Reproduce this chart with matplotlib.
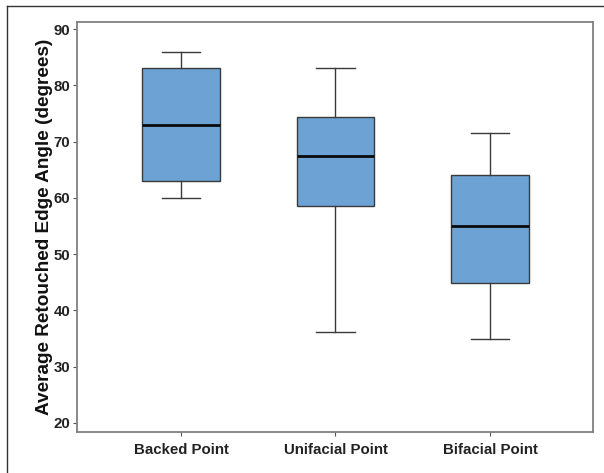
import matplotlib
matplotlib.use("Agg")
import matplotlib.pyplot as plt
from matplotlib.lines import Line2D

categories = ["Backed Point", "Unifacial Point", "Bifacial Point"]
whisker_low = [60.0, 36.2, 34.9]
q1 = [63.0, 58.6, 44.9]
median = [73.0, 67.5, 55.0]
q3 = [83.0, 74.4, 64.0]
whisker_high = [86.0, 83.0, 71.6]
y_ticks = [20, 30, 40, 50, 60, 70, 80, 90]

plt.rcParams["font.family"] = ["Liberation Sans", "DejaVu Sans"]

W, H = 604, 473
fig = plt.figure(figsize=(W / 100, H / 100), dpi=100)
ax = fig.add_axes([77 / W, 1 - 432 / H, (593 - 77) / W, (432 - 22) / H])

stats = []
for i, name in enumerate(categories):
    stats.append({
        "label": name,
        "whislo": whisker_low[i],
        "q1": q1[i],
        "med": median[i],
        "q3": q3[i],
        "whishi": whisker_high[i],
        "fliers": [],
    })

edge = "#3a3a3a"
ax.bxp(
    stats,
    positions=[1, 2, 3],
    widths=0.5,
    patch_artist=True,
    showfliers=False,
    boxprops=dict(facecolor="#6ca3d4", edgecolor=edge, linewidth=1.0),
    medianprops=dict(color="#0a0a0a", linewidth=2.0),
    whiskerprops=dict(color=edge, linewidth=1.0),
    capprops=dict(color=edge, linewidth=1.0),
)

ax.set_xlim(0.327, 3.667)
ax.set_ylim(18.4, 91.25)
ax.set_yticks(y_ticks)
ax.set_xticks([1, 2, 3])
ax.set_xticklabels(categories)

for sp in ax.spines.values():
    sp.set_color("#808080")
    sp.set_linewidth(1.3)

ax.tick_params(axis="both", direction="out", length=3, width=0.8,
               colors="#555555", labelcolor="#222222", labelsize=10.8, pad=2)
ax.tick_params(axis="x", pad=5)
for lbl in ax.get_xticklabels() + ax.get_yticklabels():
    lbl.set_fontweight("bold")

ax.set_ylabel("Average Retouched Edge Angle (degrees)", fontsize=13.7,
              fontweight="bold", color="#111111", labelpad=0)

# thin frame along the left and top of the figure
fig.add_artist(Line2D([7 / W, 7 / W], [0, 1 - 6 / H], transform=fig.transFigure,
                      color="#333333", linewidth=1.0))
fig.add_artist(Line2D([7 / W, 1], [1 - 6 / H, 1 - 6 / H], transform=fig.transFigure,
                      color="#333333", linewidth=1.0))

fig.savefig("out.png", dpi=100)
